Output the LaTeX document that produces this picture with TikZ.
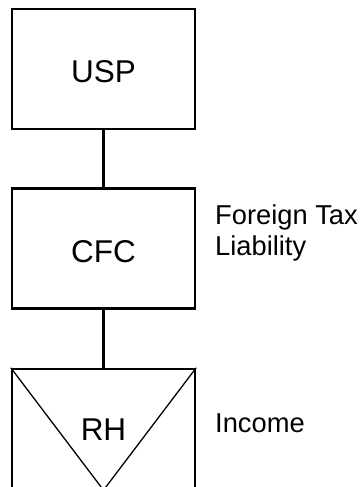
\documentclass[tikz,border=0pt]{standalone}
\usepackage{fontspec}
\setmainfont{Liberation Sans}
\begin{document}
\begin{tikzpicture}[x=1pt,y=1pt,
  entity/.style={draw, line width=2.3pt, minimum width=183pt, minimum height=120pt,
    inner sep=0pt, font=\fontsize{31.5}{36}\selectfont, text height=28pt, text depth=0pt},
  link/.style={line width=2.5pt},
  tag/.style={font=\fontsize{27.3}{31}\selectfont, inner sep=0pt, align=left},
  hybrid/.style={line width=1.3pt, line join=miter}]
  \clip (0,0) rectangle (360,487);
  % entities
  \node[entity] (usp) at (103.5,418) {USP};
  \node[entity] (cfc) at (103.5,238.5) {CFC};
  \node[entity] (rh)  at (103.5,58) {};
  \node[font=\fontsize{31.5}{36}\selectfont, inner sep=0pt, anchor=base] (rhname) at (103.5,46.5) {RH};
  % reverse hybrid marker
  \draw[hybrid] (rh.north west) -- (rh.south) -- (rh.north east);
  % ownership chain
  \draw[link] (usp.south) -- (cfc.north);
  \draw[link] (cfc.south) -- (rh.north);
  % side notes (base anchor sits on the last line)
  \node[tag, anchor=base west] (ftl) at (215,231) {Foreign Tax\\Liability};
  \node[tag, anchor=base west] (inc) at (215,54) {Income};
\end{tikzpicture}
\end{document}
